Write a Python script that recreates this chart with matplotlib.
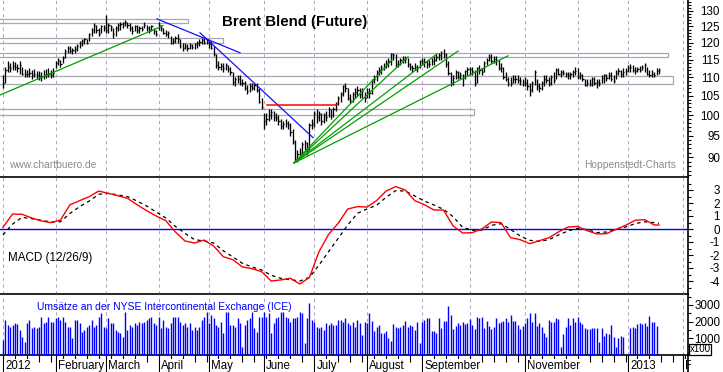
import numpy as np
import pandas as pd
import matplotlib
matplotlib.use('Agg')
import matplotlib.pyplot as plt
from matplotlib.patches import Rectangle
from matplotlib.lines import Line2D
from matplotlib.ticker import FixedLocator, FixedFormatter, NullFormatter
from matplotlib.transforms import Bbox, TransformedBbox

plt.rcParams['font.family'] = ['Liberation Sans', 'DejaVu Sans']

# ---------------- data ----------------
start_date = '2012-01-02'
axis_end_date = '2013-02-28'

close = [
    108.5,112.0,113.0,112.5,113.2,113.0,112.5,113.5,111.0,111.0,110.8,111.3,110.5,111.0,110.5,110.3,110.0,110.7,110.8,111.0,110.5,111.2,
    114.0,115.0,113.8,115.5,117.5,118.5,117.5,117.8,118.2,119.0,119.8,120.5,121.0,120.0,122.5,123.8,125.5,124.0,122.5,125.0,124.5,
    124.0,125.5,124.8,122.5,124.5,125.5,125.8,126.0,126.3,125.5,124.5,123.5,125.0,124.0,124.5,124.3,125.5,124.5,123.8,125.0,123.5,122.8,
    125.5,124.5,123.0,122.5,123.0,120.0,120.5,121.5,121.0,119.0,118.5,119.0,118.5,119.2,118.8,119.5,120.0,120.3,120.8,120.0,120.3,
    119.5,118.5,116.5,113.5,113.0,113.2,112.5,113.5,112.3,111.5,108.7,109.5,109.5,108.5,108.5,107.0,106.3,107.5,107.0,108.0,106.5,103.5,102.0,
    98.5,99.0,100.0,100.8,99.5,99.3,98.5,97.3,97.8,98.0,97.5,95.8,93.5,89.5,90.8,91.0,93.0,93.3,91.5,97.5,97.8,
    100.5,99.5,100.2,98.5,100.0,99.5,101.5,100.0,101.5,103.0,104.5,105.5,107.5,107.0,104.5,104.0,105.5,106.0,106.5,105.5,106.3,104.5,
    106.0,105.8,109.0,109.6,111.6,112.0,112.8,113.0,114.0,114.5,116.5,116.3,113.7,113.8,114.8,115.2,115.3,113.6,112.8,112.5,112.8,112.6,114.5,
    114.5,114.2,113.6,113.8,114.5,115.0,115.8,116.2,116.8,116.7,113.8,111.2,108.3,109.8,111.5,110.0,110.5,110.0,111.8,112.3,
    112.2,111.8,108.5,112.5,112.0,111.5,114.0,115.0,115.8,114.6,115.3,114.6,112.5,112.6,110.0,109.5,108.2,108.5,109.5,109.6,109.3,109.0,108.6,
    108.5,107.5,106.5,108.5,111.5,107.5,107.0,108.5,109.5,109.3,108.5,110.0,109.2,112.0,111.0,111.5,111.2,110.8,110.5,110.8,111.5,111.8,
    110.0,110.5,109.5,108.0,108.5,108.2,109.5,108.5,108.8,108.5,109.8,110.5,109.8,110.5,109.5,109.0,111.2,111.8,110.8,111.5,111.8,
    112.5,113.0,112.0,111.8,112.3,112.0,112.8,113.5,111.0,110.5,111.0,110.5,111.8,112.0,
]
high = [
    110.5,113.0,114.5,114.0,114.5,114.2,113.8,114.5,113.0,112.3,112.0,112.5,112.0,112.3,111.8,111.7,111.5,112.0,112.2,112.5,112.0,112.5,
    114.5,115.5,115.0,116.0,118.0,119.0,119.0,118.5,119.0,119.5,120.5,121.0,121.5,121.0,123.0,124.5,126.0,125.5,124.5,125.5,125.5,
    128.5,126.0,125.5,124.5,125.0,126.0,126.5,126.5,127.0,126.5,126.0,125.0,125.5,125.5,125.0,125.0,126.5,125.5,125.0,125.5,124.5,124.0,
    126.5,125.5,124.5,124.0,123.5,122.0,121.5,122.0,122.5,121.0,120.0,120.0,119.5,120.0,119.5,120.0,120.5,121.0,121.5,121.5,121.0,
    121.0,120.5,119.0,116.5,114.5,114.0,114.0,114.0,113.5,113.0,111.5,110.0,110.5,110.5,109.5,109.0,108.0,108.5,108.5,108.5,108.5,107.0,104.5,
    100.5,100.5,101.5,101.5,101.0,100.5,100.0,99.0,98.5,99.0,98.5,98.0,96.5,94.0,91.5,92.0,93.5,94.0,93.5,98.0,99.0,
    101.0,101.5,101.0,100.5,100.5,101.0,102.0,101.5,102.0,103.5,105.0,106.0,108.0,108.5,107.0,105.5,106.0,107.0,107.5,107.0,107.0,106.0,
    107.0,107.0,109.5,110.5,112.0,113.0,113.5,114.0,115.0,115.5,117.0,117.0,116.5,115.0,115.5,116.0,116.0,115.5,114.0,113.5,114.0,113.5,115.0,
    115.5,115.5,115.0,115.0,115.5,116.0,116.5,117.0,117.5,118.0,117.0,114.5,111.5,110.5,112.0,111.8,111.5,111.0,112.0,113.0,
    113.0,113.0,112.0,113.0,113.5,112.5,114.5,115.5,116.5,116.5,116.0,116.0,115.0,114.0,113.0,111.5,110.0,110.0,110.5,110.5,110.5,110.0,109.5,
    110.0,109.5,108.5,109.0,112.0,109.5,108.5,109.0,110.5,110.5,110.0,110.5,111.5,112.5,112.5,112.0,112.0,111.5,111.5,111.5,112.0,113.0,
    112.5,111.5,111.0,109.5,109.5,109.5,110.0,110.0,109.5,109.5,110.5,111.0,111.0,111.5,111.5,110.5,112.0,112.5,112.0,112.5,112.5,
    113.5,113.8,113.5,113.0,113.0,113.2,113.5,114.0,113.0,112.0,112.0,111.5,112.5,112.5,
]
low = [
    107.0,108.5,111.5,111.5,112.0,112.0,111.5,111.0,110.5,110.0,110.0,110.2,109.5,110.0,109.5,109.2,109.0,109.5,109.8,110.0,109.7,110.2,
    112.5,113.5,113.0,114.0,115.5,117.0,117.0,116.5,117.0,117.5,118.5,119.0,119.5,119.5,120.5,122.0,123.0,123.0,122.0,123.0,123.5,
    123.0,123.0,123.5,121.5,122.0,123.5,124.0,124.5,125.0,124.5,123.5,122.5,123.5,123.0,123.0,123.5,124.5,123.5,123.0,123.5,122.5,122.0,
    124.0,123.5,122.5,122.0,121.5,119.5,119.5,120.0,120.0,118.5,117.5,118.0,117.5,118.0,118.0,118.0,118.5,119.0,119.5,119.5,119.5,
    118.5,118.0,116.0,112.5,112.0,112.0,111.5,112.0,111.5,110.5,108.0,107.5,108.5,108.0,107.5,106.5,105.5,106.0,106.5,106.5,106.0,103.0,101.5,
    96.5,97.5,98.5,99.0,98.5,98.5,97.5,96.5,96.5,97.0,96.5,95.0,93.0,89.0,89.0,89.5,90.5,91.5,90.5,91.5,96.5,
    97.0,98.0,98.5,97.5,98.0,98.5,99.5,99.0,99.5,101.0,102.5,103.5,105.0,106.0,104.0,103.0,103.5,104.5,105.0,104.5,104.5,103.5,
    104.5,104.5,105.5,108.5,109.0,110.5,111.0,112.0,112.5,113.0,113.5,115.0,113.0,113.0,113.5,114.0,114.0,113.0,112.0,111.5,112.0,111.5,112.5,
    113.5,113.0,112.5,113.0,113.5,113.5,114.5,115.0,115.0,115.5,113.0,110.5,107.5,108.0,109.5,109.5,109.5,107.5,109.5,110.5,
    110.5,110.5,107.5,108.5,111.0,110.5,111.5,113.5,114.5,114.0,114.0,113.5,112.0,111.5,109.5,109.0,107.5,107.5,108.5,108.5,108.5,108.0,107.5,
    107.5,106.5,105.0,106.0,108.0,106.5,106.0,106.5,107.5,108.5,107.5,108.0,108.5,109.5,110.5,110.0,110.5,110.0,109.5,109.5,110.0,110.5,
    109.5,109.5,109.0,107.5,107.5,107.5,107.5,108.0,107.0,107.5,108.5,108.5,109.0,109.5,109.0,108.5,109.5,110.5,110.0,110.0,110.5,
    111.5,111.5,111.5,111.0,111.5,111.5,112.0,111.5,110.5,110.0,110.0,110.0,110.5,111.0,
]
volume = [
    900,2100,1800,1700,1800,1900,1860,1500,1100,800,
    1900,2100,1600,1700,1600,1700,2300,1900,2000,2300,
    2000,2000,2200,2300,2100,2300,2000,1700,1700,1000,
    2100,2100,1900,1400,1500,1700,1800,2100,1700,1800,
    2300,2500,1700,1600,2200,1900,1900,1500,1400,1300,
    1100,2600,1500,1800,1700,1900,1800,2000,1900,2000,
    2100,2200,2300,1900,1800,2300,1600,2100,1700,1600,
    1900,2300,2300,2300,2000,1800,1900,1700,1900,1500,
    1700,1500,1700,2100,2300,2600,1900,2400,2200,1800,
    1700,2000,1300,2600,2600,1800,1800,1700,2200,1900,
    500,1800,2100,2200,2600,1600,1400,2300,2300,2600,
    2300,2500,1300,1900,2200,2300,2600,2600,2300,2200,
    2000,2200,2200,2300,2600,2500,700,2200,3100,2100,
    2000,1700,1600,1700,1500,1900,1800,1900,1800,1800,
    2100,2100,2000,2200,1900,1800,2000,1700,2100,1900,
    1200,2000,1900,2540,2060,1460,1700,1800,1340,1340,
    1460,1040,840,1860,1700,1600,1700,1800,2040,1660,
    1800,1760,1500,1960,700,2000,2100,2200,2200,1440,
    1440,1300,2200,1600,2060,2060,2940,2400,1560,1740,
    1900,1800,2000,
    1840,1900,2160,1800,1540,2300,2200,2300,1640,2060,
    1740,1540,1700,2200,1900,1960,2040,2200,1980,2400,
    2060,2040,1800,1540,1740,1900,2200,2540,1960,2500,
    1740,1900,1700,1340,1100,2100,1960,2000,2200,2140,
    500,1240,1700,2200,1800,2200,2000,2300,2000,1860,
    1600,1540,1540,1600,1600,1600,800,1600,1140,1340,
    1240,1800,1100,500,1000,1160,1100,
    np.nan, np.nan,
    1600,1700,1640,1860,1900,1860,1940,1740,2340,1960,2000,1760,
]
macd_day = list(range(0, 273, 4)) + [274]
macd = [
    0.13,1.15,1.13,0.85,0.62,0.49,0.69,1.87,2.18,2.49,
    2.92,2.74,2.56,2.36,1.87,1.41,1.0,0.64,-0.23,-0.92,
    -1.08,-0.85,-1.31,-2.13,-2.36,-2.92,-3.05,-3.28,-4.0,-3.92,
    -3.79,-4.23,-3.72,-1.74,-0.41,0.44,1.54,1.72,1.69,2.18,
    2.92,3.26,3.0,2.18,1.87,1.46,1.46,0.23,-0.31,-0.28,
    0.0,0.54,0.49,-0.67,-0.82,-1.13,-0.9,-0.67,-0.23,0.15,
    0.2,-0.13,-0.38,-0.36,-0.03,0.28,0.67,0.72,0.31,0.31,
]
signal = [
    -0.46,0.38,0.9,0.79,0.67,0.54,0.56,1.2,1.72,2.15,
    2.67,2.74,2.62,2.49,2.15,1.77,1.31,0.85,0.2,-0.33,
    -0.82,-0.92,-1.08,-1.67,-2.15,-2.64,-2.92,-3.15,-3.56,-3.79,
    -3.9,-4.0,-3.72,-2.77,-1.74,-0.72,0.31,1.2,1.54,1.82,
    2.44,2.95,2.92,2.54,2.15,1.85,1.51,0.95,0.13,-0.1,
    -0.08,0.28,0.41,-0.03,-0.54,-0.87,-0.95,-0.82,-0.46,-0.15,
    0.05,-0.05,-0.28,-0.23,-0.05,0.15,0.41,0.56,0.49,0.44,
]
# support / resistance zones: (from day, to day, low price, high price)
zones = [(-3, 77.3, 126.2, 127.4), (-3, 91.9, 119.8, 121.4), (-3, 277.8, 115.8, 117.0),
         (-3, 279.9, 108.2, 110.4), (-3, 196.7, 100.1, 101.6)]
# trend lines: (day0, price0, day1, price1)
green_lines = [(-1.25, 105.2, 66.8, 125.2),
               (121.6, 88.7, 162.5, 114.9), (121.6, 88.7, 169.2, 115.8),
               (121.6, 88.7, 181.3, 116.7), (121.6, 88.7, 190.1, 117.5),
               (121.6, 88.7, 210.9, 116.1)]
blue_lines = [(64.3, 127.4, 99.0, 117.0), (82.3, 123.0, 129.5, 94.5)]
red_lines = [(110.3, 102.7, 139.5, 102.7)]

month_names = {1: None, 2: 'February', 3: 'March', 4: 'April', 5: 'May', 6: 'June', 7: 'July',
               8: 'August', 9: 'September', 10: '', 11: 'November', 12: ''}
price_ticks = [90, 95, 100, 105, 110, 115, 120, 125, 130]
macd_ticks = [-4, -3, -2, -1, 0, 1, 2, 3]
vol_ticks = [1000, 2000, 3000]

# ---------------- layout ----------------
W, H = 723, 372
fig = plt.figure(figsize=(W / 100, H / 100), dpi=100)
fig.patch.set_facecolor('white')

def rect(x0, y0, x1, y1):
    return [x0 / W, 1 - y1 / H, (x1 - x0) / W, (y1 - y0) / H]

ax_p = fig.add_axes(rect(0, 0, 688, 177))
ax_m = fig.add_axes(rect(0, 177, 688, 294))
ax_v = fig.add_axes(rect(0, 294, 688, 355))

axis_dates = pd.bdate_range(start_date, axis_end_date)
months = axis_dates.to_period('M')
month_idx = [i for i in range(len(axis_dates)) if i == 0 or months[i] != months[i - 1]]
monday_idx = [i for i in range(len(axis_dates)) if axis_dates[i].dayofweek == 0]

days = np.arange(len(close))
vdays = np.arange(len(volume))
xlim = (-1.25, 286.1)

grid_kw = dict(color='#b4a8c0', lw=0.75, linestyle=(0, (3.2, 3.2)), zorder=0)
for ax in (ax_p, ax_m, ax_v):
    ax.set_xlim(*xlim)
    for mi in month_idx:
        ax.axvline(mi, **grid_kw)
    for s in ('left', 'top'):
        ax.spines[s].set_visible(False)
    for s in ('right', 'bottom'):
        ax.spines[s].set_color('black')
        ax.spines[s].set_linewidth(1.2)
    ax.yaxis.set_ticks_position('right')
    ax.tick_params(axis='y', which='both', direction='out', left=False, right=True,
                   labelleft=False, labelright=True, labelsize=8.4, width=0.8,
                   pad=(720 - 688 - 5) * 0.72)
    ax.tick_params(axis='y', which='major', length=3.6)
    ax.tick_params(axis='y', which='minor', length=2.2)
    ax.set_facecolor('none')

for ax in (ax_p, ax_m):
    ax.tick_params(axis='x', which='both', bottom=False, labelbottom=False)

# ---- price panel ----
ax_p.set_yscale('log')
ax_p.set_ylim(85.6, 133.6)
ax_p.yaxis.set_major_locator(FixedLocator(price_ticks))
ax_p.yaxis.set_major_formatter(FixedFormatter([str(t) for t in price_ticks]))
ax_p.yaxis.set_minor_locator(FixedLocator([p for p in range(86, 134) if p not in price_ticks]))
ax_p.yaxis.set_minor_formatter(NullFormatter())

for (d0, d1, lo, hi) in zones:
    ax_p.add_patch(Rectangle((d0, lo), d1 - d0, hi - lo, fill=False, ec='#aaa6b4', lw=0.9, zorder=1))

ax_p.vlines(days, low, high, color='black', lw=0.95, zorder=3)
ax_p.hlines(close, days, days + 0.5, color='black', lw=0.95, zorder=3)

for (d0, p0, d1, p1) in green_lines:
    ax_p.plot([d0, d1], [p0, p1], color='#00a000', lw=0.9, zorder=4)
for (d0, p0, d1, p1) in blue_lines:
    ax_p.plot([d0, d1], [p0, p1], color='#1010ff', lw=0.9, zorder=4)
for (d0, p0, d1, p1) in red_lines:
    ax_p.plot([d0, d1], [p0, p1], color='#ff0000', lw=1.1, zorder=4)

fig.text(222 / W, 1 - 26 / H, 'Brent Blend (Future)', fontsize=10.8, fontweight='bold',
         ha='left', va='baseline', color='black')
fig.text(9 / W, 1 - 168 / H, 'www.chartbuero.de', fontsize=7.4, color='#8c8c8c',
         ha='left', va='baseline')
fig.text(676 / W, 1 - 168 / H, 'Hoppenstedt-Charts', fontsize=7.4, color='#8c8c8c',
         ha='right', va='baseline')

# ---- MACD panel ----
ax_m.set_ylim(-5, 4)
ax_m.yaxis.set_major_locator(FixedLocator(macd_ticks))
ax_m.yaxis.set_major_formatter(FixedFormatter([str(t) for t in macd_ticks]))
ax_m.yaxis.set_minor_locator(FixedLocator([t + 0.5 for t in range(-5, 4)]))
ax_m.yaxis.set_minor_formatter(NullFormatter())
ax_m.axhline(0, color='#0000ff', lw=1.0, zorder=2)
ax_m.plot(macd_day, signal, color='black', lw=0.9, linestyle=(0, (2.8, 2.8)), zorder=3)
ax_m.plot(macd_day, macd, color='#ff0000', lw=1.0, zorder=4)
fig.text(8 / W, 1 - 261 / H, 'MACD (12/26/9)', fontsize=8.4, color='black', ha='left', va='baseline')

# ---- volume panel ----
ax_v.set_ylim(0, 3650)
ax_v.yaxis.set_major_locator(FixedLocator(vol_ticks))
ax_v.yaxis.set_major_formatter(FixedFormatter([str(t) for t in vol_ticks]))
ax_v.yaxis.set_minor_locator(FixedLocator([500, 1500, 2500, 3500]))
ax_v.yaxis.set_minor_formatter(NullFormatter())
ax_v.vlines(vdays, 0, volume, color='#0000ff', lw=1.0, zorder=3)
fig.text(37 / W, 1 - 310 / H, 'Umsätze an der NYSE Intercontinental Exchange (ICE)', fontsize=7.5,
         color='#0000ff', ha='left', va='baseline')
fig.text(700 / W, 1 - 349.5 / H, 'x100', fontsize=7, color='black', ha='center', va='center',
         bbox=dict(boxstyle='square,pad=0.1', fc='white', ec='black', lw=0.9))

# right axis line continues below the date axis
fig.add_artist(Line2D([688 / W, 688 / W], [0, 1 - 355 / H], transform=fig.transFigure,
                      color='black', lw=1.2))

# bottom date axis
ax_v.xaxis.set_major_locator(FixedLocator(month_idx))
ax_v.xaxis.set_minor_locator(FixedLocator([m for m in monday_idx if m not in month_idx]))
ax_v.tick_params(axis='x', which='both', direction='out', labelbottom=False, width=0.8, color='black')
ax_v.tick_params(axis='x', which='major', length=12.5)
ax_v.tick_params(axis='x', which='minor', length=5)

for ax in (ax_p, ax_m, ax_v):
    for t in ax.yaxis.get_major_ticks():
        t.label2.set_horizontalalignment('right')

clip = TransformedBbox(Bbox([[0, 0], [691 / W, 1]]), fig.transFigure)
for mi in month_idx:
    d = axis_dates[mi]
    label = str(d.year) if d.month == 1 else month_names[d.month]
    if not label:
        continue
    a = ax_v.annotate(label, xy=(mi, 0), xycoords=ax_v.get_xaxis_transform(),
                      xytext=(1.6, -8.0), textcoords='offset points', ha='left', va='center',
                      fontsize=8.3, color='black', annotation_clip=False, zorder=5,
                      bbox=dict(boxstyle='square,pad=0.1', fc='white', ec='none'))
    a.set_clip_box(clip)
    a.set_clip_on(True)

fig.savefig('out.png', dpi=100, facecolor='white')
